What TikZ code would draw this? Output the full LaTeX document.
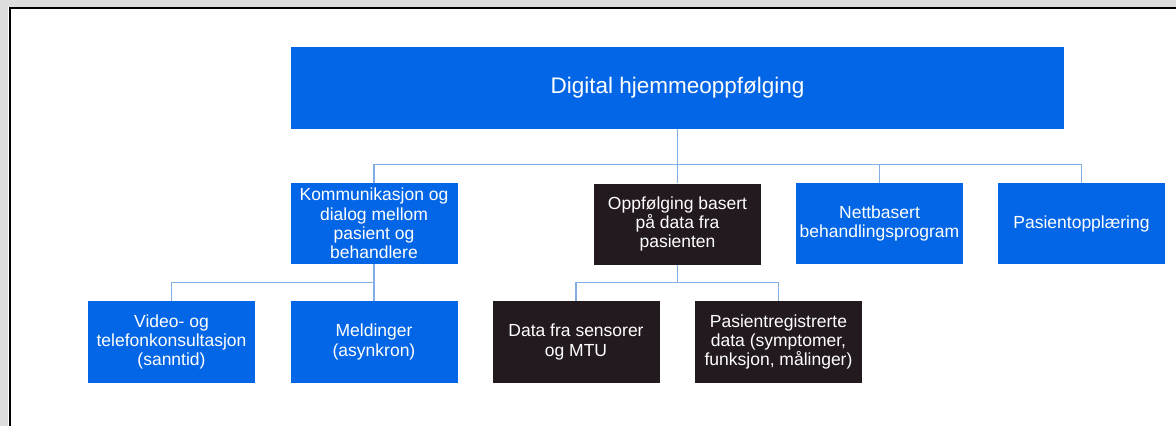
\documentclass[tikz,border=0pt]{standalone}
\usepackage{fontspec}
\setmainfont{Liberation Sans}
\usetikzlibrary{calc}
\definecolor{boxblue}{HTML}{0366E6}
\definecolor{boxdark}{HTML}{231A20}
\definecolor{linkblue}{HTML}{82AEE6}
\definecolor{edgegray}{HTML}{DDDDDD}
\begin{document}
\begin{tikzpicture}[x=1pt,y=-1pt,
  card/.style={rectangle, inner sep=0pt, minimum width=167pt, minimum height=81pt,
    text=white, align=center, font=\fontsize{17.5}{19.3}\selectfont},
  bluecard/.style={card, fill=boxblue},
  darkcard/.style={card, fill=boxdark},
  link/.style={draw=linkblue, line width=1.3pt}]
\useasboundingbox (0,0) rectangle (1176,426);
\fill[white] (0,0) rectangle (1176,426);
\fill[edgegray] (0,0) rectangle (1176,7);
\fill[edgegray] (0,0) rectangle (8,426);
\draw[black, line width=2pt] (10,426) -- (10,8) -- (1176,8);

\node[bluecard, minimum width=773pt, minimum height=82pt, font=\fontsize{22.5}{26}\selectfont] (top) at (677.5,88) {Digital hjemmeoppfølging};

\node[bluecard] (k) at (374,223.5) {Kommunikasjon og\\dialog mellom\\pasient og\\behandlere};
\node[darkcard] (o) at (677.5,224) {Oppfølging basert\\på data fra\\pasienten};
\node[bluecard] (n) at (879.5,223.5) {Nettbasert\\behandlingsprogram};
\node[bluecard] (p) at (1081.5,223.5) {Pasientopplæring};

\node[bluecard, minimum height=82pt] (v) at (171.5,342) {Video- og\\telefonkonsultasjon\\(sanntid)};
\node[bluecard, minimum height=82pt] (m) at (374,342) {Meldinger\\(asynkron)};
\node[darkcard, minimum height=82pt] (d) at (576,342) {Data fra sensorer\\og MTU};
\node[darkcard, minimum height=82pt] (r) at (778.5,342) {Pasientregistrerte\\data (symptomer,\\funksjon, målinger)};

\coordinate (bus1) at ($(top.south)+(0,35)$);
\path[link] (top.south) -- (bus1) -| (k.north);
\path[link] (bus1) -- (o.north);
\path[link] (bus1) -| (n.north);
\path[link] (bus1) -| (p.north);

\coordinate (bus2) at ($(k.south)+(0,18)$);
\path[link] (k.south) -- (bus2) -| (v.north);
\path[link] (bus2) -- (m.north);

\coordinate (bus3) at ($(o.south)+(0,18)$);
\path[link] (o.south) -- (bus3) -| (d.north);
\path[link] (bus3) -| (r.north);
\end{tikzpicture}
\end{document}
